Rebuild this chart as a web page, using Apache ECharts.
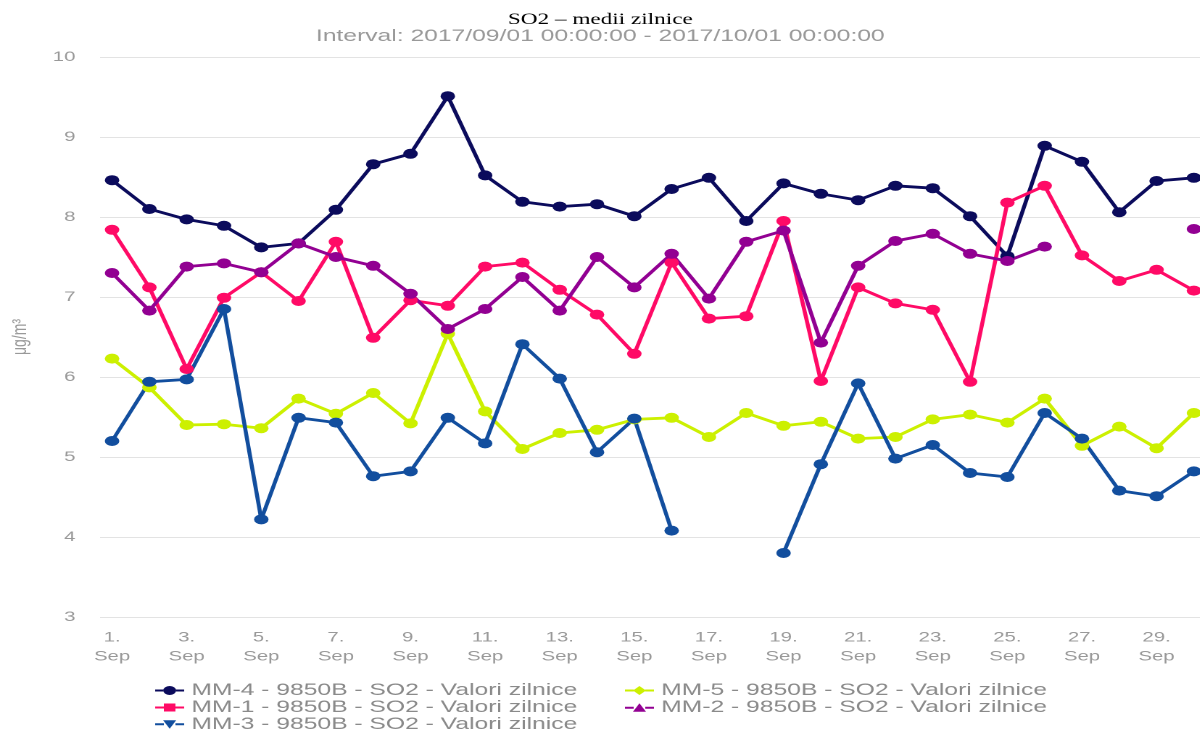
<!DOCTYPE html>
<html>
<head>
<meta charset="utf-8">
<script src="https://cdn.jsdelivr.net/npm/echarts@6/dist/echarts.min.js"></script>
<style>
html,body{margin:0;padding:0;background:#fff;overflow:hidden;width:1200px;height:733px;}
#wrap{position:absolute;left:0;top:0;width:1200px;height:733px;overflow:hidden;}
#chart{position:absolute;left:0;top:0;width:827.6px;height:733px;transform:scaleX(1.45);transform-origin:0 0;}
</style>
</head>
<body>
<div id="wrap"><div id="chart"></div></div>
<script>
// ---- data ----
const days = [1,2,3,4,5,6,7,8,9,10,11,12,13,14,15,16,17,18,19,20,21,22,23,24,25,26,27,28,29,30];
const tickDays = [1,3,5,7,9,11,13,15,17,19,21,23,25,27,29];
const monthLabel = 'Sep';
const yTicks = [3,4,5,6,7,8,9,10];
const seriesNames = [
  'MM-4 - 9850B - SO2 - Valori zilnice',
  'MM-5 - 9850B - SO2 - Valori zilnice',
  'MM-1 - 9850B - SO2 - Valori zilnice',
  'MM-2 - 9850B - SO2 - Valori zilnice',
  'MM-3 - 9850B - SO2 - Valori zilnice'
];
const mm4 = [8.46,8.10,7.97,7.89,7.62,7.67,8.09,8.66,8.79,9.51,8.52,8.19,8.13,8.16,8.01,8.35,8.49,7.95,8.42,8.29,8.21,8.39,8.36,8.01,7.51,8.89,8.69,8.06,8.45,8.49];
const mm5 = [6.23,5.87,5.40,5.41,5.36,5.73,5.54,5.80,5.42,6.54,5.57,5.10,5.30,5.34,5.47,5.49,5.25,5.55,5.39,5.44,5.23,5.25,5.47,5.53,5.43,5.73,5.14,5.38,5.11,5.55];
const mm1 = [7.84,7.12,6.10,6.99,7.31,6.95,7.69,6.49,6.96,6.89,7.38,7.43,7.09,6.78,6.29,7.43,6.73,6.76,7.95,5.95,7.12,6.92,6.84,5.94,8.18,8.39,7.52,7.20,7.34,7.08];
const mm2 = [7.30,6.83,7.38,7.42,7.31,7.67,7.50,7.39,7.04,6.60,6.85,7.25,6.83,7.50,7.12,7.54,6.98,7.69,7.83,6.43,7.39,7.70,7.79,7.54,7.45,7.63,null,null,null,7.85];
const mm3 = [5.20,5.94,5.97,6.85,4.22,5.49,5.43,4.76,4.82,5.49,5.17,6.41,5.98,5.06,5.48,4.08,null,null,3.80,4.91,5.92,4.98,5.15,4.80,4.75,5.55,5.23,4.58,4.51,4.82];

// ---- styling ----
const colors = ['#0b0b5c', '#ccf000', '#ff0a66', '#920092', '#124e9e'];
const icons = [
  'path://M0,5H5.5V7H0Z M14.5,5H20V7H14.5Z M5.5,6a4.5,4.5 0 1,1 9,0a4.5,4.5 0 1,1 -9,0Z',
  'path://M0,5H6V7H0Z M14,5H20V7H14Z M10,1.5L14.5,6L10,10.5L5.5,6Z',
  'path://M0,5H6V7H0Z M14,5H20V7H14Z M6,2H14V10H6Z',
  'path://M0,5H6V7H0Z M14,5H20V7H14Z M10,1.5L14.5,10H5.5Z',
  'path://M0,5H6V7H0Z M14,5H20V7H14Z M5.5,2H14.5L10,10.5Z'
];
const allData = [mm4, mm5, mm1, mm2, mm3];

function toPairs(arr){ return arr.map((v,i)=>[days[i], v==null ? '-' : v]); }

const chart = echarts.init(document.getElementById('chart'), null, {devicePixelRatio: 2});
const font = "'Liberation Sans', Arial, sans-serif";
chart.setOption({
  animation: false,
  backgroundColor: '#ffffff',
  color: colors,
  title: {
    text: 'SO2 – medii zilnice',
    subtext: 'Interval: 2017/09/01 00:00:00 - 2017/10/01 00:00:00',
    left: 'center',
    top: 12,
    itemGap: 0,
    padding: 0,
    textStyle: {fontFamily: "'Liberation Serif', 'Times New Roman', serif", fontSize: 16, lineHeight: 16, fontWeight: 'normal', color: '#000'},
    subtextStyle: {fontFamily: font, fontSize: 17, lineHeight: 17, color: '#999'}
  },
  legend: {
    left: 107,
    top: 682,
    width: 700,
    padding: 0,
    itemWidth: 20,
    itemHeight: 12,
    itemGap: 0,
    data: seriesNames.map((n,i)=>({name: n, icon: icons[i]})),
    textStyle: {fontFamily: font, fontSize: 17, lineHeight: 17, color: '#8a8a8a', width: 299, padding: [0,0,0,0]}
  },
  grid: {left: 69, right: 0, top: 57, bottom: 116, containLabel: false, outerBoundsMode: 'none'},
  xAxis: {
    type: 'value',
    min: 0.678,
    max: 30.18,
    axisLine: {show: false},
    axisTick: {show: false},
    splitLine: {show: false},
    axisLabel: {
      customValues: tickDays,
      formatter: v => v + '.\n' + monthLabel,
      fontFamily: font, fontSize: 14, lineHeight: 19, color: '#999', margin: 11
    }
  },
  yAxis: {
    type: 'value',
    min: yTicks[0],
    max: yTicks[yTicks.length-1],
    interval: 1,
    name: 'μg/m³',
    nameLocation: 'middle',
    nameGap: 48,
    nameTextStyle: {fontFamily: font, fontSize: 14, color: '#999'},
    axisLine: {show: false},
    axisTick: {show: false},
    axisLabel: {fontFamily: font, fontSize: 14, color: '#999', margin: 17},
    splitLine: {lineStyle: {color: '#e3e3e3', width: 1}}
  },
  series: allData.map((arr,i)=>({
    name: seriesNames[i],
    type: 'line',
    data: toPairs(arr),
    symbol: 'circle',
    symbolSize: 10,
    showSymbol: true,
    showAllSymbol: true,
    connectNulls: false,
    lineStyle: {width: 2.8, color: colors[i]},
    itemStyle: {color: colors[i]},
    emphasis: {disabled: true}
  }))
});
</script>
</body>
</html>
